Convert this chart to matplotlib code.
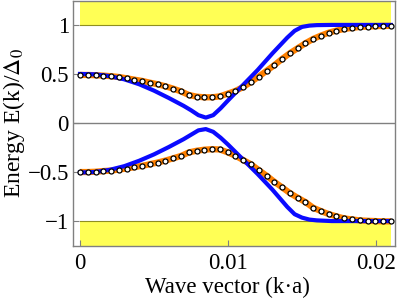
import matplotlib
matplotlib.use("Agg")
import matplotlib.pyplot as plt
import numpy as np

plt.rcParams["font.family"] = ["Liberation Serif", "DejaVu Serif"]
plt.rcParams["mathtext.fontset"] = "stix"

# orange curve + circles (sampled every 0.000525 in k*a)
k_dots = np.arange(41) * 0.000525
orange_up = [0.49, 0.49, 0.487, 0.483, 0.477, 0.469, 0.456, 0.442, 0.429, 0.411,
             0.395, 0.374, 0.35, 0.322, 0.286, 0.269, 0.262, 0.262, 0.272, 0.299,
             0.327, 0.367, 0.418, 0.473, 0.531, 0.589, 0.653, 0.711, 0.762, 0.813,
             0.857, 0.891, 0.921, 0.942, 0.959, 0.969, 0.980, 0.983, 0.987, 0.990,
             0.990]
orange_lo = [-0.50, -0.50, -0.497, -0.49, -0.485, -0.475, -0.464, -0.45, -0.437, -0.42,
             -0.403, -0.383, -0.36, -0.336, -0.30, -0.283, -0.272, -0.267, -0.27, -0.299,
             -0.334, -0.378, -0.421, -0.48, -0.537, -0.599, -0.656, -0.714, -0.762, -0.806,
             -0.864, -0.898, -0.929, -0.952, -0.973, -0.983, -0.993, -0.997, -1.0, -1.003,
             -1.003]

# blue curve
k_blue = [0, 0.001, 0.002, 0.003, 0.004, 0.005, 0.006, 0.007, 0.0075, 0.008,
          0.0085, 0.009, 0.0095, 0.010, 0.011, 0.012, 0.013, 0.014, 0.0145, 0.015,
          0.0155, 0.016, 0.017, 0.019, 0.021]
blue_up = [0.50, 0.496, 0.478, 0.445, 0.395, 0.33, 0.255, 0.175, 0.13, 0.08,
           0.055, 0.08, 0.15, 0.23, 0.385, 0.54, 0.71, 0.87, 0.94, 0.98,
           0.993, 0.998, 1.0, 1.0, 1.0]
blue_lo = [-0.505, -0.50, -0.478, -0.44, -0.385, -0.32, -0.245, -0.165, -0.12, -0.075,
           -0.062, -0.09, -0.15, -0.22, -0.37, -0.52, -0.68, -0.855, -0.93, -0.965,
           -0.985, -0.993, -1.0, -1.0, -1.0]

# continuum (yellow) regions
gap_k = [0, 0.021]
gap_lo, gap_hi = 1.0, 1.25

fig = plt.figure(figsize=(3.99, 2.99), dpi=100)
ax = fig.add_axes([0.183, 0.177, 0.807, 0.820])

yellow = "#ffff55"
ax.fill_between(gap_k, gap_lo, gap_hi, color=yellow, lw=0, zorder=1)
ax.fill_between(gap_k, -gap_hi, -gap_lo, color=yellow, lw=0, zorder=1)
ax.plot(gap_k, [gap_lo, gap_lo], color="#8f8f20", lw=0.8, zorder=1.5)
ax.plot(gap_k, [-gap_lo, -gap_lo], color="#8f8f20", lw=0.8, zorder=1.5)
ax.axhline(0, color="#808080", lw=1.0, zorder=1.5)

ax.plot(k_dots, orange_up, color="#ff8000", lw=4.5, solid_capstyle="butt", zorder=2)
ax.plot(k_dots, orange_lo, color="#ff8000", lw=4.5, solid_capstyle="butt", zorder=2)
ax.plot(k_blue, blue_up, color="#0a0aff", lw=3.0, zorder=3)
ax.plot(k_blue, blue_lo, color="#0a0aff", lw=3.0, zorder=3)
ax.plot(k_dots, orange_up, "o", ms=3.6, mfc="white", mec="black", mew=0.9, zorder=4)
ax.plot(k_dots, orange_lo, "o", ms=3.6, mfc="white", mec="black", mew=0.9, zorder=4)

ax.set_xlim(-0.00047, 0.02128)
ax.set_ylim(-1.255, 1.245)
ax.set_xticks([0, 0.01, 0.02])
ax.set_xticklabels(["0", "0.01", "0.02"])
ax.set_yticks([-1, -0.5, 0, 0.5, 1])
ax.set_yticklabels(["\u22121", "\u22120.5", "0", "0.5", "1"])
ax.tick_params(direction="in", length=4, width=0.8, color="#808080",
               labelsize=16.5)
ax.tick_params(axis="x", pad=5)
ax.tick_params(axis="y", pad=3)
for s in ax.spines.values():
    s.set_color("#808080")
    s.set_linewidth(1.0)

ax.set_xlabel("Wave vector (k\u00b7a)", fontsize=16.5)
ax.set_ylabel(r"Energy E(k)/$\Delta_0$", fontsize=17, labelpad=0)
ax.xaxis.set_label_coords(0.48, -0.125)

plt.savefig("out.png", dpi=100)
